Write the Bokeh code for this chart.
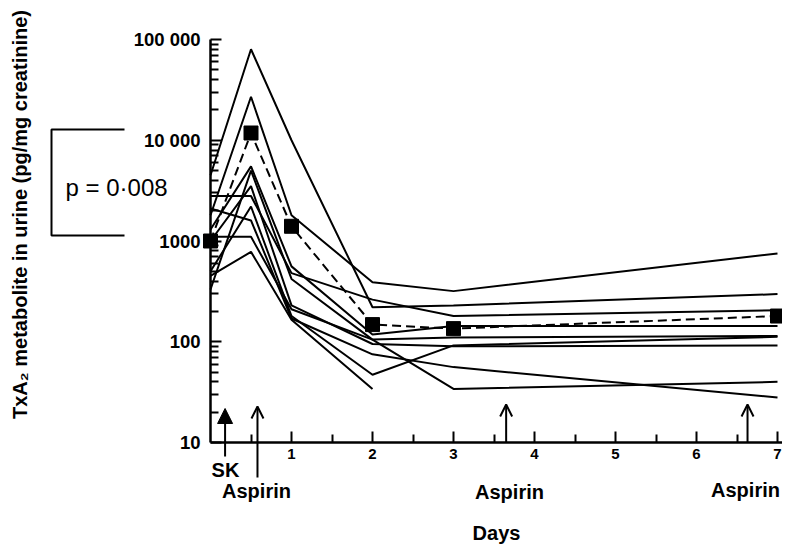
import math
from bokeh.plotting import figure
from bokeh.models import FixedTicker, Arrow, NormalHead, OpenHead, Label, Range1d
from bokeh.embed import file_html
from bokeh.resources import INLINE

# ---------------- data ----------------
days = [0, 0.5, 1, 2, 3, 7]

patient_1 = [4500, 80000, 10000, 220, 229, 297]
patient_2 = [1800, 27000, 1800, 390, 318, 753]
patient_3 = [2800, 2800, 480, 262, 180, 205]
patient_4 = [1300, 5500, 560, 118, 143, 143]
patient_5 = [330, 5000, 420, 105, 110, 114]
patient_6 = [1000, 3500, 230, 95, 90, 92]
patient_7 = [500, 2200, 180, 47, 92, 112]
patient_8 = [2100, 1600, 170, 75, 56, 28]
patient_9 = [450, 780, 165, 34]
patient_10 = [1100, 1100, 210, 105, 34, 40]
patients = [patient_1, patient_2, patient_3, patient_4, patient_5,
            patient_6, patient_7, patient_8, patient_9, patient_10]

mean_values = [1000, 11800, 1400, 148, 135, 180]

y_ticks = [10, 100, 1000, 10000, 100000]
y_tick_labels = ["10", "100", "1000", "10 000", "100 000"]
y_minor = [m * d for d in [10, 100, 1000, 10000] for m in range(2, 10)]

x_ticks = [1, 2, 3, 4, 5, 6, 7]
x_tick_labels = ["1", "2", "3", "4", "5", "6", "7"]
x_minor = [0.5, 1.5, 2.5, 3.5, 4.5, 5.5, 6.5]

dose_days = [0.18, 0.58, 3.65, 6.63]
dose_labels = ["SK", "Aspirin", "Aspirin", "Aspirin"]

# ---------------- layout (page pixels of the reference) ----------------
OX, OY = 1, 1            # where the canvas sits on the page
W, H = 782, 548
AXIS_X = 211 - OX        # canvas x of the y axis (day 0)
AXIS_Y = 443 - OY        # canvas y of the x axis (value 10)
PX_DAY = 81.0
PX_DEC = 100.75

x_start = -AXIS_X / PX_DAY
x_end = (W - AXIS_X) / PX_DAY
y_start = 10 ** (1 - (H - AXIS_Y) / PX_DEC)
y_end = 10 ** (1 + AXIS_Y / PX_DEC)

FONT = "Liberation Sans"


def dx(page_x):
    return (page_x - OX - AXIS_X) / PX_DAY


def dy(page_y):
    return 10 ** (1 + (AXIS_Y - (page_y - OY)) / PX_DEC)


p = figure(width=W, height=H, x_range=Range1d(x_start, x_end),
           y_range=Range1d(y_start, y_end), y_axis_type="log",
           output_backend="svg", toolbar_location=None,
           min_border_left=0, min_border_right=0, min_border_top=0, min_border_bottom=0)
p.outline_line_color = None
p.grid.visible = False
p.background_fill_color = "white"
p.border_fill_color = "white"

# axes (fixed inside the frame)
yax = p.yaxis[0]
yax.fixed_location = 0
yax.bounds = (10, 100000)
yax.ticker = FixedTicker(ticks=y_ticks, minor_ticks=y_minor)
yax.major_label_overrides = {t: l for t, l in zip(y_ticks, y_tick_labels)}
yax.major_label_standoff = 10

xax = p.xaxis[0]
xax.fixed_location = 10
xax.bounds = (0, x_end)
xax.ticker = FixedTicker(ticks=x_ticks, minor_ticks=x_minor)
xax.major_label_overrides = {t: l for t, l in zip(x_ticks, x_tick_labels)}
xax.axis_label = "Days"
xax.axis_label_standoff = 60
xax.major_label_standoff = 6

for ax in (xax, yax):
    ax.axis_line_width = 2.5
    ax.axis_line_color = "black"
    ax.major_tick_in = 11
    ax.major_tick_out = 0
    ax.minor_tick_in = 8
    ax.minor_tick_out = 0
    ax.major_tick_line_width = 2
    ax.minor_tick_line_width = 2
    ax.major_tick_line_color = "black"
    ax.minor_tick_line_color = "black"
    ax.major_label_text_font = FONT
    ax.major_label_text_font_style = "bold"
    ax.major_label_text_color = "black"
    ax.axis_label_text_font = FONT
    ax.axis_label_text_font_style = "bold"
    ax.axis_label_text_color = "black"

yax.major_label_text_font_size = "18.5px"
xax.major_label_text_font_size = "15px"
xax.axis_label_text_font_size = "20px"

# y-axis title
p.add_layout(Label(x=dx(20), y=dy(215), text="TxA\u2082 metabolite in urine (pg/mg creatinine)",
                   angle=math.pi / 2, text_align="center", text_baseline="middle",
                   text_font=FONT, text_font_style="bold", text_font_size="20px",
                   text_color="black"))

# individual patients
for vals in patients:
    p.line(days[:len(vals)], vals, line_color="black", line_width=2)

# mean
p.line(days, mean_values, line_color="black", line_width=2, line_dash="9 5")
p.scatter(days, mean_values, marker="square", size=14, color="black")

# dosing arrows (page y of start and end)
arrow_spans = [(457, 409, "filled"), (478, 407, "open"), (443, 405, "open"), (443, 405, "open")]
for d, (ys, ye, kind) in zip(dose_days, arrow_spans):
    if kind == "filled":
        head = NormalHead(size=15, fill_color="black", line_color="black", line_width=1)
    else:
        head = OpenHead(size=12, line_color="black", line_width=2)
    p.add_layout(Arrow(x_start=d, y_start=dy(ys), x_end=d, y_end=dy(ye),
                       end=head, line_color="black", line_width=2))

label_pos = [(226, 470), (257, 491), (510, 492), (746, 490)]
for txt, (lx, ly) in zip(dose_labels, label_pos):
    p.add_layout(Label(x=dx(lx), y=dy(ly), text=txt, text_align="center",
                       text_baseline="middle", text_font=FONT, text_font_style="bold",
                       text_font_size="20px", text_color="black"))

# significance bracket
p.line([dx(125), dx(52), dx(52), dx(125)], [dy(130), dy(130), dy(236), dy(236)],
       line_color="black", line_width=2)
p.add_layout(Label(x=dx(66), y=dy(188), text="p = 0\u00b7008", text_align="left",
                   text_baseline="middle", text_font=FONT, text_font_style="normal",
                   text_font_size="24px", text_color="black"))

open("out.html", "w").write(file_html(p, INLINE))
